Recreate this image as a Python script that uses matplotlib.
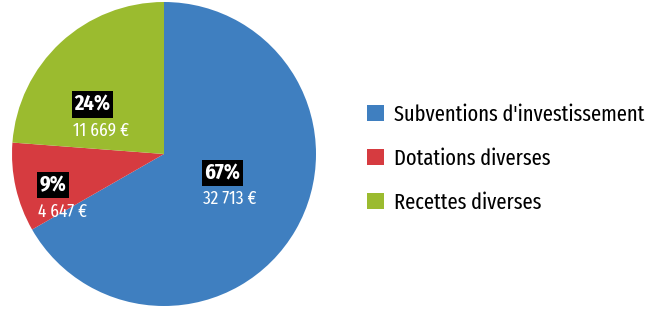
import matplotlib
matplotlib.use("Agg")
import matplotlib.pyplot as plt

plt.rcParams["font.family"] = ["Fira Sans Extra Condensed", "DejaVu Sans"]

# Data
categories = ["Subventions d'investissement", "Dotations diverses", "Recettes diverses"]
amounts = [32713, 4647, 11669]
pct_labels = ["67%", "9%", "24%"]
amount_labels = ["32 713 €", "4 647 €", "11 669 €"]
colors = ["#3f7fc0", "#d63b40", "#9bbb2f"]

fig = plt.figure(figsize=(6.61, 3.09), dpi=100)
ax = fig.add_axes([12 / 661, 3 / 309, 304 / 661, 304 / 309])

wedges, _ = ax.pie(amounts, colors=colors, startangle=90, counterclock=False,
                   wedgeprops=dict(linewidth=0))
ax.set_xlim(-1, 1)
ax.set_ylim(-1, 1)
ax.set_aspect("equal")
ax.axis("off")

# label anchors (left edge, gap between % box and amount), pie radius units
label_pos = [(0.265, -0.214), (-0.82, -0.295), (-0.59, 0.237)]
for (x, y), p, a in zip(label_pos, pct_labels, amount_labels):
    ax.text(x, y + 0.02, p, color="white", fontsize=16, fontweight="bold",
            ha="left", va="bottom",
            bbox=dict(boxstyle="square,pad=0.12", fc="black", ec="none"))
    ax.text(x - 0.01, y - 0.025, a, color="white", fontsize=13.5,
            ha="left", va="top")

fig.legend(wedges, categories, loc="center left",
           bbox_to_anchor=(367 / 661, 1 - 158.5 / 309),
           frameon=False, fontsize=16, handlelength=0.76, handleheight=0.76,
           handletextpad=0.45, labelspacing=1.02, borderpad=0, borderaxespad=0)

fig.savefig("out.png", dpi=100)
